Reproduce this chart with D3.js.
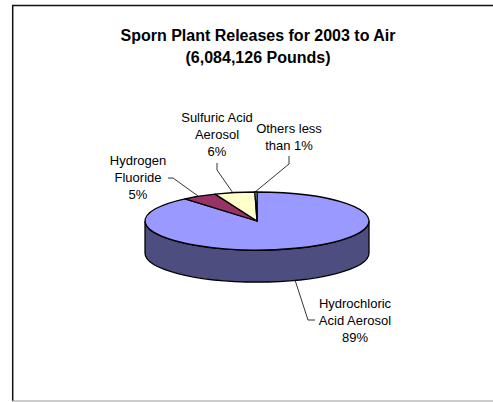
<!DOCTYPE html>
<html><head><meta charset="utf-8">
<script src="https://cdn.jsdelivr.net/npm/d3@7"></script>
<style>html,body{margin:0;padding:0;background:#fff}svg{display:block}text{font-family:"Liberation Sans",Arial,sans-serif}</style>
</head><body><svg id="c" width="493" height="402"></svg>
<script>
const categories=["Hydrochloric Acid Aerosol","Hydrogen Fluoride","Sulfuric Acid Aerosol","Others less than 1%"];
const values=[88.9,5.0,5.8,0.3];
const topColors=["#9999ff","#993366","#ffffcc","#ccffff"];
const sideColor="#4d4d80";
const titleLines=["Sporn Plant Releases for 2003 to Air","(6,084,126 Pounds)"];
const labelLines=[["Hydrochloric","Acid Aerosol","89%"],["Hydrogen","Fluoride","5%"],["Sulfuric Acid","Aerosol","6%"],["Others less","than 1%"]];
const labelPos=[[355,308],[138,165],[217,122],[289,133]];
const leaders=[[[295,280],[308,320],[315,320]],[[168,178],[173,178],[198,196]],[[217,163],[217,170],[233,193]],[[289,156],[289,164],[255,192]]];

const svg=d3.select("#c");
svg.append("line").attr("x1",12.7).attr("x2",12.7).attr("y1",5).attr("y2",401).attr("stroke","#111").attr("stroke-width",1.5);
svg.append("line").attr("x1",12).attr("x2",493).attr("y1",5.6).attr("y2",5.6).attr("stroke","#111").attr("stroke-width",1.5);
svg.append("line").attr("x1",12).attr("x2",493).attr("y1",401).attr("y2",401).attr("stroke","#999").attr("stroke-width",1.2);

svg.selectAll("text.t").data(titleLines).join("text").attr("class","t")
 .attr("x",258).attr("y",(d,i)=>40.5+i*22.5).attr("text-anchor","middle")
 .attr("font-size",16).attr("font-weight","bold").attr("fill","#000").text(d=>d);

const cx=257,cy=221,rx=112,ry=29,depth=32;
const pie=d3.pie().sort(null).value(d=>d)(values);
const px=a=>cx+rx*Math.sin(a),py=a=>cy-ry*Math.cos(a);
function slicePath(s){
  const large=(s.endAngle-s.startAngle)>Math.PI?1:0;
  return `M${cx},${cy}L${px(s.startAngle)},${py(s.startAngle)}A${rx},${ry} 0 ${large} 1 ${px(s.endAngle)},${py(s.endAngle)}Z`;
}
svg.append("path").attr("fill",sideColor).attr("stroke","#000").attr("stroke-width",1.3)
 .attr("d",`M${cx-rx},${cy}A${rx},${ry} 0 0 0 ${cx+rx},${cy}L${cx+rx},${cy+depth}A${rx},${ry} 0 0 1 ${cx-rx},${cy+depth}Z`);
svg.selectAll("path.s").data(pie).join("path").attr("class","s")
 .attr("d",slicePath).attr("fill",(d,i)=>topColors[i]).attr("stroke","#000").attr("stroke-width",1.3).attr("stroke-linejoin","round");

const line=d3.line();
svg.selectAll("path.l").data(leaders).join("path").attr("class","l").attr("d",line).attr("fill","none").attr("stroke","#000").attr("stroke-width",0.8);

labelLines.forEach((ls,i)=>{
  svg.selectAll("text.lb"+i).data(ls).join("text").attr("class","lb"+i)
   .attr("x",labelPos[i][0]).attr("y",(d,j)=>labelPos[i][1]+j*17).attr("text-anchor","middle")
   .attr("font-size",13).attr("fill","#000").text(d=>d);
});
</script></body></html>
